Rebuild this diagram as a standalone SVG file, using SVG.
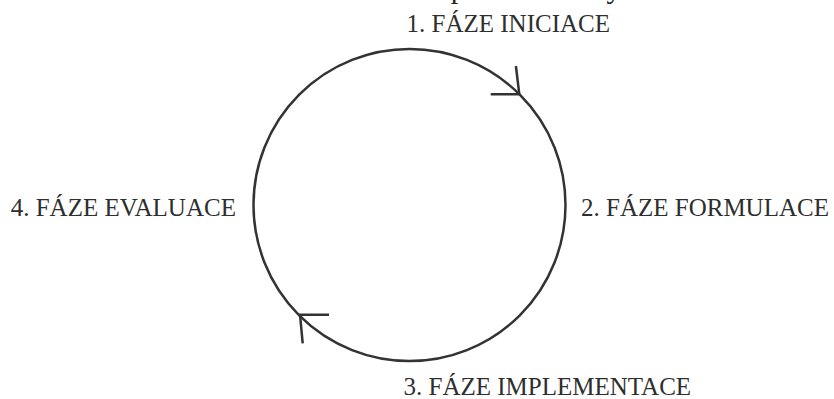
<svg xmlns="http://www.w3.org/2000/svg" width="834" height="399" viewBox="0 0 834 399">
  <style>
    .lbl { font-family: "Liberation Serif", "Times New Roman", serif; font-size: 25px; fill: #2e2e2e; }
    .title { font-family: "Liberation Serif", "Times New Roman", serif; font-size: 30px; fill: #222222; }
    .ln { fill: none; stroke: #333333; stroke-width: 2.5; stroke-linecap: butt; stroke-linejoin: miter; }
  </style>
  <rect width="834" height="399" fill="#ffffff"/>
  <text class="title" x="180" y="-2">Obrázek č. 1: Schéma politického cyklu</text>
  <g id="cycle">
    <circle class="ln" cx="409.5" cy="205" r="156"/>
  </g>
  <g id="connectors">
    <polyline class="ln" points="490.7,94.3 519.3,94.3 515.9,66"/>
    <polyline class="ln" points="329,314.7 300,314.7 302.7,343.3"/>
  </g>
  <g id="phase1"><text class="lbl" x="406.5" y="32.3">1. FÁZE INICIACE</text></g>
  <g id="phase2"><text class="lbl" x="581" y="215.7">2. FÁZE FORMULACE</text></g>
  <g id="phase3"><text class="lbl" x="403.5" y="395">3. FÁZE IMPLEMENTACE</text></g>
  <g id="phase4"><text class="lbl" x="10.7" y="215.7">4. FÁZE EVALUACE</text></g>
</svg>
